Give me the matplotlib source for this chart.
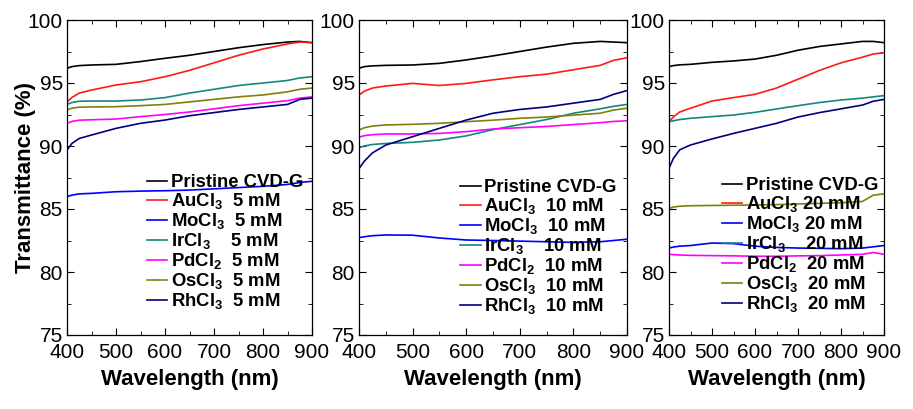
import numpy as np
import matplotlib
matplotlib.use('Agg')
import matplotlib.pyplot as plt
from matplotlib.ticker import MultipleLocator

plt.rcParams['font.family'] = 'Liberation Sans'
plt.rcParams['mathtext.default'] = 'regular'

# wavelength grid (nm) shared by all read-off curves
wl = [400, 410, 425, 450, 500, 550, 600, 650, 700, 750, 800, 850, 875, 900]

# ---- 5 mM panel ----
t5_pristine = [96.17, 96.3, 96.38, 96.43, 96.48, 96.7, 96.96, 97.2, 97.5, 97.8, 98.05, 98.25, 98.3, 98.2]
t5_au = [93.5, 93.85, 94.2, 94.44, 94.84, 95.1, 95.5, 96.0, 96.6, 97.2, 97.7, 98.1, 98.25, 98.2]
t5_mo = [85.98, 86.1, 86.2, 86.24, 86.37, 86.42, 86.45, 86.5, 86.6, 86.7, 86.8, 86.95, 87.1, 87.2]
t5_ir = [93.3, 93.45, 93.55, 93.57, 93.57, 93.65, 93.84, 94.2, 94.5, 94.8, 95.0, 95.2, 95.4, 95.5]
t5_pd = [91.8, 91.95, 92.05, 92.08, 92.14, 92.33, 92.5, 92.7, 92.95, 93.2, 93.4, 93.6, 93.8, 93.9]
t5_os = [92.86, 93.0, 93.08, 93.1, 93.12, 93.2, 93.3, 93.5, 93.7, 93.9, 94.05, 94.3, 94.5, 94.6]
t5_rh = [89.68, 90.2, 90.6, 90.87, 91.4, 91.8, 92.06, 92.4, 92.65, 92.9, 93.1, 93.3, 93.7, 93.8]

# ---- 10 mM panel ----
t10_pristine = [96.17, 96.3, 96.36, 96.4, 96.43, 96.56, 96.83, 97.15, 97.5, 97.85, 98.15, 98.3, 98.25, 98.2]
t10_au = [94.05, 94.35, 94.6, 94.76, 94.97, 94.8, 94.97, 95.25, 95.5, 95.7, 96.05, 96.4, 96.8, 97.0]
t10_mo = [82.73, 82.8, 82.88, 82.94, 82.92, 82.7, 82.54, 82.5, 82.45, 82.4, 82.35, 82.4, 82.5, 82.6]
t10_ir = [89.87, 90.0, 90.12, 90.2, 90.29, 90.48, 90.8, 91.3, 91.7, 92.1, 92.6, 92.95, 93.15, 93.3]
t10_pd = [90.7, 90.82, 90.9, 90.95, 90.96, 91.0, 91.14, 91.35, 91.45, 91.55, 91.7, 91.85, 91.95, 92.0]
t10_os = [91.27, 91.45, 91.58, 91.67, 91.72, 91.8, 91.93, 92.05, 92.2, 92.3, 92.45, 92.6, 92.85, 93.0]
t10_rh = [88.2, 88.8, 89.45, 90.08, 90.74, 91.4, 92.06, 92.6, 92.9, 93.1, 93.4, 93.7, 94.1, 94.4]

# ---- 20 mM panel ----
t20_pristine = [96.3, 96.38, 96.44, 96.48, 96.64, 96.75, 96.9, 97.2, 97.6, 97.9, 98.1, 98.3, 98.3, 98.2]
t20_au = [91.93, 92.3, 92.7, 93.0, 93.57, 93.84, 94.1, 94.6, 95.3, 96.0, 96.6, 97.05, 97.3, 97.4]
t20_mo = [81.9, 81.98, 82.05, 82.1, 82.3, 82.25, 82.05, 81.95, 81.9, 81.88, 81.85, 81.9, 82.0, 82.1]
t20_ir = [91.93, 92.0, 92.1, 92.2, 92.33, 92.46, 92.67, 92.94, 93.2, 93.45, 93.65, 93.8, 93.9, 94.0]
t20_pd = [81.4, 81.38, 81.35, 81.32, 81.3, 81.28, 81.25, 81.25, 81.28, 81.3, 81.35, 81.4, 81.55, 81.4]
t20_os = [85.05, 85.15, 85.22, 85.26, 85.28, 85.3, 85.32, 85.35, 85.4, 85.45, 85.5, 85.6, 86.1, 86.2]
t20_rh = [88.23, 89.0, 89.7, 90.08, 90.56, 91.0, 91.4, 91.8, 92.3, 92.65, 92.95, 93.25, 93.55, 93.7]

colors = ['black', '#ff1a1a', '#0000ff', '#13877a', '#ff00ff', '#80800a', '#000080']

labels5 = ['Pristine CVD-G', 'AuCl$_3$  5 mM', 'MoCl$_3$  5 mM', 'IrCl$_3$    5 mM',
           'PdCl$_2$  5 mM', 'OsCl$_3$  5 mM', 'RhCl$_3$  5 mM']
labels10 = ['Pristine CVD-G', 'AuCl$_3$  10 mM', 'MoCl$_3$  10 mM', 'IrCl$_3$    10 mM',
            'PdCl$_2$  10 mM', 'OsCl$_3$  10 mM', 'RhCl$_3$  10 mM']
labels20 = ['Pristine CVD-G', 'AuCl$_3$ 20 mM', 'MoCl$_3$ 20 mM', 'IrCl$_3$    20 mM',
            'PdCl$_2$  20 mM', 'OsCl$_3$  20 mM', 'RhCl$_3$  20 mM']

panels = [
    ([t5_pristine, t5_au, t5_mo, t5_ir, t5_pd, t5_os, t5_rh], labels5, (0.327, 0.51)),
    ([t10_pristine, t10_au, t10_mo, t10_ir, t10_pd, t10_os, t10_rh], labels10, (0.378, 0.495)),
    ([t20_pristine, t20_au, t20_mo, t20_ir, t20_pd, t20_os, t20_rh], labels20, (0.245, 0.50)),
]

fig = plt.figure(figsize=(9.13, 4.09), dpi=100)
W, H = 913, 409
boxes = [(67, 312), (359, 627), (669, 884)]
top, bottom = 20, 335

for i, ((series, labels, anchor), (x0, x1)) in enumerate(zip(panels, boxes)):
    ax = fig.add_axes([x0 / W, (H - bottom) / H, (x1 - x0) / W, (bottom - top) / H])
    for y, c, lab in zip(series, colors, labels):
        ax.plot(wl, y, color=c, lw=1.2, label=lab)
    ax.set_xlim(400, 900)
    ax.set_ylim(75, 100)
    ax.xaxis.set_major_locator(MultipleLocator(100))
    ax.xaxis.set_minor_locator(MultipleLocator(50))
    ax.yaxis.set_major_locator(MultipleLocator(5))
    ax.yaxis.set_minor_locator(MultipleLocator(2.5))
    ax.tick_params(which='both', direction='in', top=True, right=True, labelsize=15)
    ax.tick_params(axis='x', pad=6)
    ax.tick_params(axis='y', pad=3)
    ax.tick_params(which='major', length=5)
    ax.tick_params(which='minor', length=3)
    for s in ax.spines.values():
        s.set_linewidth(0.9)
    ax.set_xlabel('Wavelength (nm)', fontsize=16, fontweight='bold', labelpad=5)
    if i == 0:
        ax.set_ylabel('Transmittance (%)', fontsize=16, fontweight='bold')
        ax.yaxis.set_label_coords(-0.125, 0.5)
    ax.legend(loc='upper left', bbox_to_anchor=anchor, frameon=False,
              prop={'weight': 'bold', 'size': 13.3}, handlelength=1.1,
              handletextpad=0.2, labelspacing=0.0, borderpad=0, borderaxespad=0)

plt.savefig('out.png', dpi=100)
